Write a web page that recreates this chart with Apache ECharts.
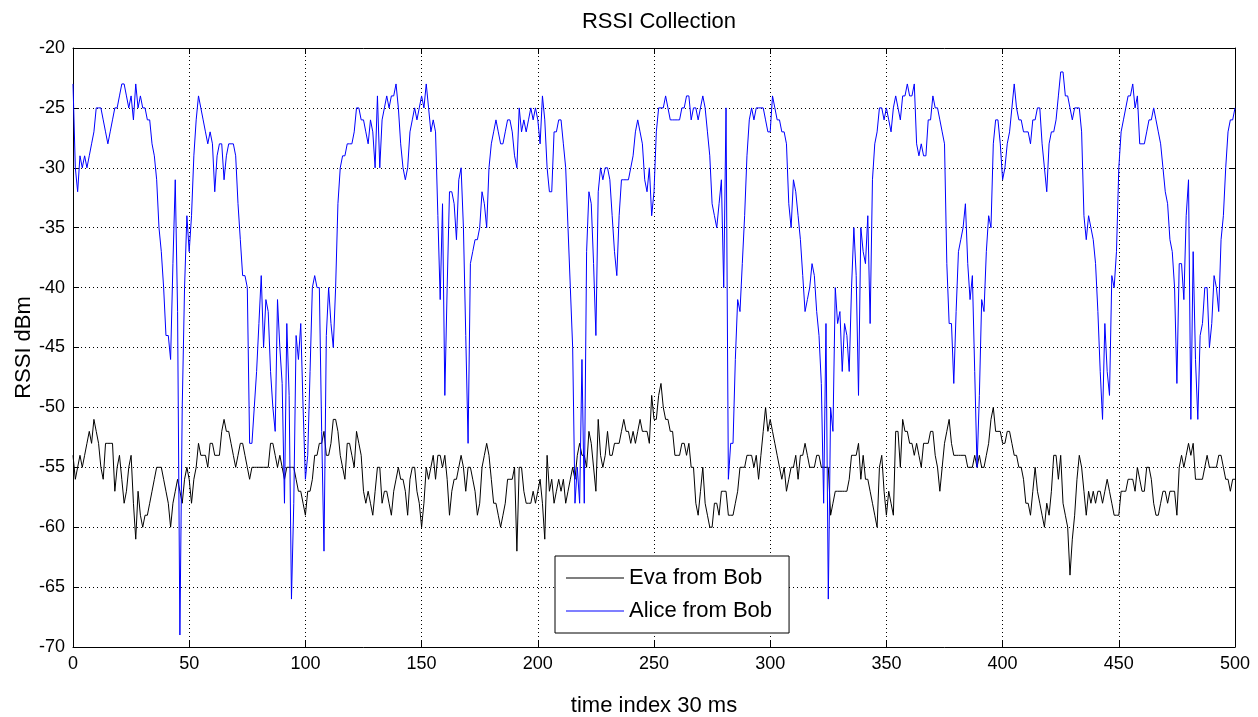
<!DOCTYPE html>
<html>
<head>
<meta charset="utf-8">
<title>RSSI Collection</title>
<script src="https://cdn.jsdelivr.net/npm/echarts@6/dist/echarts.min.js"></script>
<style>
  html, body { margin: 0; padding: 0; background: #fff; }
  #chart { width: 1258px; height: 717px; }
</style>
</head>
<body>
<div id="chart"></div>
<script>
// RSSI samples (dBm), one per 30 ms time index, 0..500
const evaFromBob = [
  -54,-56,-55,-54,-55,-54,-53,-52,-53,-51,
  -52,-53,-55,-56,-53,-53,-53,-53,-57,-55,
  -54,-56,-58,-57,-55,-54,-58,-61,-57,-59,
  -60,-59,-59,-58,-57,-56,-55,-55,-55,-56,
  -57,-58,-60,-58,-57,-56,-57,-58,-56,-55,
  -56,-58,-56,-55,-53,-54,-54,-54,-55,-53,
  -53,-54,-54,-54,-52,-51,-52,-52,-53,-54,
  -55,-54,-53,-53,-54,-55,-56,-55,-55,-55,
  -55,-55,-55,-55,-55,-53,-53,-54,-55,-54,
  -55,-56,-55,-55,-55,-55,-56,-57,-57,-58,
  -59,-57,-57,-56,-54,-54,-53,-53,-52,-54,
  -54,-53,-51,-51,-52,-54,-55,-56,-53,-53,
  -54,-55,-52,-53,-54,-57,-58,-57,-58,-59,
  -57,-55,-55,-58,-57,-57,-58,-59,-57,-56,
  -55,-56,-56,-57,-59,-56,-55,-55,-57,-58,
  -60,-58,-55,-56,-55,-54,-56,-54,-54,-55,
  -54,-56,-59,-57,-56,-56,-55,-54,-55,-57,
  -55,-55,-56,-57,-59,-58,-55,-54,-53,-54,
  -56,-58,-58,-59,-60,-59,-58,-56,-56,-56,
  -55,-62,-55,-55,-57,-58,-58,-58,-57,-58,
  -57,-56,-58,-61,-54,-57,-56,-58,-57,-56,
  -57,-56,-58,-57,-56,-55,-56,-54,-53,-54,
  -54,-55,-52,-53,-55,-57,-51,-54,-55,-54,
  -52,-54,-54,-53,-53,-53,-52,-51,-52,-52,
  -53,-52,-53,-52,-51,-52,-52,-52,-53,-49,
  -51,-51,-49,-48,-50,-51,-51,-52,-52,-54,
  -54,-54,-53,-53,-54,-53,-55,-55,-58,-59,
  -57,-55,-58,-59,-60,-60,-58,-58,-59,-57,
  -57,-57,-59,-59,-59,-58,-57,-55,-55,-55,
  -54,-54,-54,-55,-54,-56,-54,-52,-50,-52,
  -51,-52,-53,-54,-55,-56,-55,-57,-56,-55,
  -55,-54,-56,-54,-54,-53,-54,-55,-55,-55,
  -54,-54,-55,-55,-55,-55,-59,-58,-57,-57,
  -57,-57,-57,-57,-56,-54,-54,-54,-53,-56,
  -54,-56,-56,-57,-58,-59,-60,-55,-54,-57,
  -59,-57,-58,-59,-52,-52,-55,-51,-52,-52,
  -53,-53,-54,-53,-54,-55,-53,-53,-53,-52,
  -52,-54,-55,-57,-55,-53,-52,-51,-53,-54,
  -54,-54,-54,-54,-54,-55,-55,-55,-54,-55,
  -54,-55,-55,-54,-53,-51,-50,-52,-52,-52,
  -53,-53,-52,-52,-53,-54,-54,-55,-55,-56,
  -58,-58,-59,-57,-55,-57,-58,-59,-60,-58,
  -59,-57,-54,-54,-56,-54,-58,-59,-60,-64,
  -61,-59,-56,-54,-55,-57,-59,-57,-58,-57,
  -58,-57,-57,-58,-57,-56,-57,-58,-59,-59,
  -59,-57,-57,-57,-56,-56,-56,-57,-55,-56,
  -57,-57,-55,-55,-56,-58,-59,-59,-58,-57,
  -57,-58,-57,-57,-57,-59,-55,-54,-55,-54,
  -53,-54,-53,-56,-56,-56,-56,-55,-54,-55,
  -55,-55,-55,-54,-54,-55,-56,-56,-57,-56,
  -56
];

const aliceFromBob = [
  -23,-30,-32,-29,-30,-29,-30,-29,-28,-27,
  -25,-25,-25,-26,-27,-28,-27,-26,-25,-25,
  -24,-23,-23,-24,-25,-24,-26,-23,-25,-24,
  -25,-25,-26,-26,-28,-29,-31,-35,-37,-40,
  -44,-44,-46,-38,-31,-42,-69,-50,-40,-34,
  -37,-34,-29,-26,-24,-25,-26,-27,-28,-27,
  -28,-32,-29,-28,-28,-31,-29,-28,-28,-28,
  -29,-33,-36,-39,-39,-40,-53,-53,-50,-47,
  -43,-39,-45,-41,-42,-47,-50,-52,-41,-45,
  -48,-58,-43,-49,-66,-58,-44,-46,-43,-50,
  -56,-54,-47,-40,-39,-40,-40,-52,-62,-44,
  -40,-43,-45,-40,-33,-30,-29,-29,-28,-28,
  -28,-27,-25,-25,-26,-26,-27,-28,-26,-27,
  -30,-24,-30,-26,-25,-24,-25,-24,-24,-23,
  -25,-28,-30,-31,-30,-27,-26,-25,-26,-25,
  -24,-25,-23,-25,-27,-26,-27,-34,-41,-33,
  -49,-40,-32,-32,-33,-36,-31,-30,-35,-44,
  -53,-38,-37,-36,-36,-35,-32,-33,-35,-30,
  -28,-27,-26,-27,-28,-28,-27,-26,-26,-27,
  -29,-30,-25,-27,-26,-27,-26,-25,-26,-25,
  -26,-28,-24,-26,-30,-32,-32,-27,-27,-26,
  -26,-28,-30,-35,-40,-45,-58,-55,-58,-46,
  -58,-37,-32,-33,-38,-44,-32,-30,-31,-30,
  -30,-31,-34,-37,-39,-34,-31,-31,-31,-31,
  -30,-29,-27,-26,-27,-28,-31,-32,-30,-34,
  -32,-27,-25,-25,-25,-24,-25,-26,-26,-26,
  -26,-26,-25,-25,-24,-24,-26,-25,-25,-26,
  -25,-24,-25,-27,-29,-33,-34,-35,-33,-31,
  -40,-25,-56,-53,-53,-46,-41,-42,-38,-34,
  -29,-26,-25,-26,-25,-25,-25,-25,-26,-27,
  -27,-24,-25,-26,-26,-27,-27,-28,-33,-35,
  -31,-32,-34,-36,-39,-42,-41,-40,-38,-39,
  -42,-44,-48,-58,-43,-66,-50,-52,-40,-43,
  -42,-47,-43,-44,-47,-40,-35,-39,-49,-35,
  -37,-38,-34,-43,-31,-28,-27,-25,-25,-26,
  -25,-26,-27,-25,-24,-25,-26,-24,-24,-23,
  -24,-24,-23,-28,-29,-28,-29,-29,-26,-26,
  -24,-25,-25,-26,-27,-28,-38,-43,-43,-48,
  -42,-37,-36,-35,-33,-38,-41,-39,-47,-55,
  -49,-41,-42,-37,-34,-35,-28,-26,-26,-28,
  -31,-30,-28,-27,-25,-23,-25,-26,-26,-27,
  -27,-27,-28,-26,-26,-25,-25,-28,-30,-32,
  -28,-27,-27,-26,-24,-22,-22,-24,-24,-25,
  -26,-25,-25,-25,-27,-34,-36,-34,-35,-36,
  -38,-42,-47,-51,-43,-47,-49,-39,-40,-37,
  -30,-27,-26,-25,-24,-24,-23,-25,-24,-28,
  -28,-28,-27,-26,-26,-25,-26,-27,-28,-30,
  -32,-33,-36,-37,-40,-48,-38,-38,-41,-34,
  -31,-51,-37,-46,-51,-44,-43,-40,-40,-45,
  -43,-39,-40,-42,-36,-34,-30,-27,-26,-26,
  -25
];

const seriesNames = ['Eva from Bob', 'Alice from Bob'];
const seriesColors = ['#000000', '#0000ff'];

const xRange = { min: 0, max: 500, interval: 50 };
const yRange = { min: -70, max: -20, interval: 5 };

const FONT = '"Liberation Sans", Arial, Helvetica, sans-serif';

const toPairs = arr => arr.map((v, i) => [i, v]);

const chart = echarts.init(document.getElementById('chart'), null, { renderer: 'canvas' });

const tickStyle = { show: true, inside: true, length: 6, lineStyle: { color: '#000', width: 1 } };
const axisLineStyle = { show: true, onZero: false, lineStyle: { color: '#000', width: 1 } };
const gridDots = { show: true, lineStyle: { color: '#000', width: 1, type: [1, 3] } };

chart.setOption({
  animation: false,
  backgroundColor: '#ffffff',
  title: {
    text: 'RSSI Collection',
    left: 654,
    textAlign: 'center',
    top: 6,
    textStyle: { fontFamily: FONT, fontSize: 22, fontWeight: 'normal', color: '#000' }
  },
  grid: {
    left: 73, right: 23, top: 48, bottom: 70,
    containLabel: false,
    outerBoundsMode: 'none'
  },
  legend: {
    data: seriesNames,
    orient: 'vertical',
    left: 555,
    top: 556,
    padding: [11, 17, 11, 11],
    itemGap: 11,
    itemWidth: 58,
    itemHeight: 1,
    icon: 'rect',
    backgroundColor: '#ffffff',
    borderColor: '#000',
    borderWidth: 1,
    borderRadius: 0,
    textStyle: { fontFamily: FONT, fontSize: 22, color: '#000', padding: [0, 0, 0, 0] }
  },
  xAxis: [
    {
      type: 'value',
      min: xRange.min, max: xRange.max, interval: xRange.interval,
      name: 'time index 30 ms',
      nameLocation: 'middle',
      nameGap: 48,
      nameMoveOverlap: false,
      nameTextStyle: { fontFamily: FONT, fontSize: 22, color: '#000' },
      axisLine: axisLineStyle,
      axisTick: tickStyle,
      axisLabel: { fontFamily: FONT, fontSize: 18, color: '#000', margin: 8 },
      splitLine: gridDots
    },
    {
      type: 'value',
      position: 'top',
      min: xRange.min, max: xRange.max, interval: xRange.interval,
      axisLine: axisLineStyle,
      axisTick: tickStyle,
      axisLabel: { show: false },
      splitLine: { show: false }
    }
  ],
  yAxis: [
    {
      type: 'value',
      min: yRange.min, max: yRange.max, interval: yRange.interval,
      name: 'RSSI dBm',
      nameLocation: 'middle',
      nameGap: 38,
      nameMoveOverlap: false,
      nameTextStyle: { fontFamily: FONT, fontSize: 22, color: '#000' },
      axisLine: axisLineStyle,
      axisTick: tickStyle,
      axisLabel: { fontFamily: FONT, fontSize: 18, color: '#000', margin: 8 },
      splitLine: gridDots
    },
    {
      type: 'value',
      position: 'right',
      min: yRange.min, max: yRange.max, interval: yRange.interval,
      axisLine: axisLineStyle,
      axisTick: tickStyle,
      axisLabel: { show: false },
      splitLine: { show: false }
    }
  ],
  series: [
    {
      name: seriesNames[0],
      type: 'line',
      data: toPairs(evaFromBob),
      xAxisIndex: 0, yAxisIndex: 0,
      symbol: 'none',
      sampling: null,
      color: seriesColors[0],
      lineStyle: { color: seriesColors[0], width: 1 },
      itemStyle: { color: seriesColors[0] }
    },
    {
      name: seriesNames[1],
      type: 'line',
      data: toPairs(aliceFromBob),
      xAxisIndex: 0, yAxisIndex: 0,
      symbol: 'none',
      sampling: null,
      color: seriesColors[1],
      lineStyle: { color: seriesColors[1], width: 1 },
      itemStyle: { color: seriesColors[1] }
    }
  ]
});
</script>
</body>
</html>
